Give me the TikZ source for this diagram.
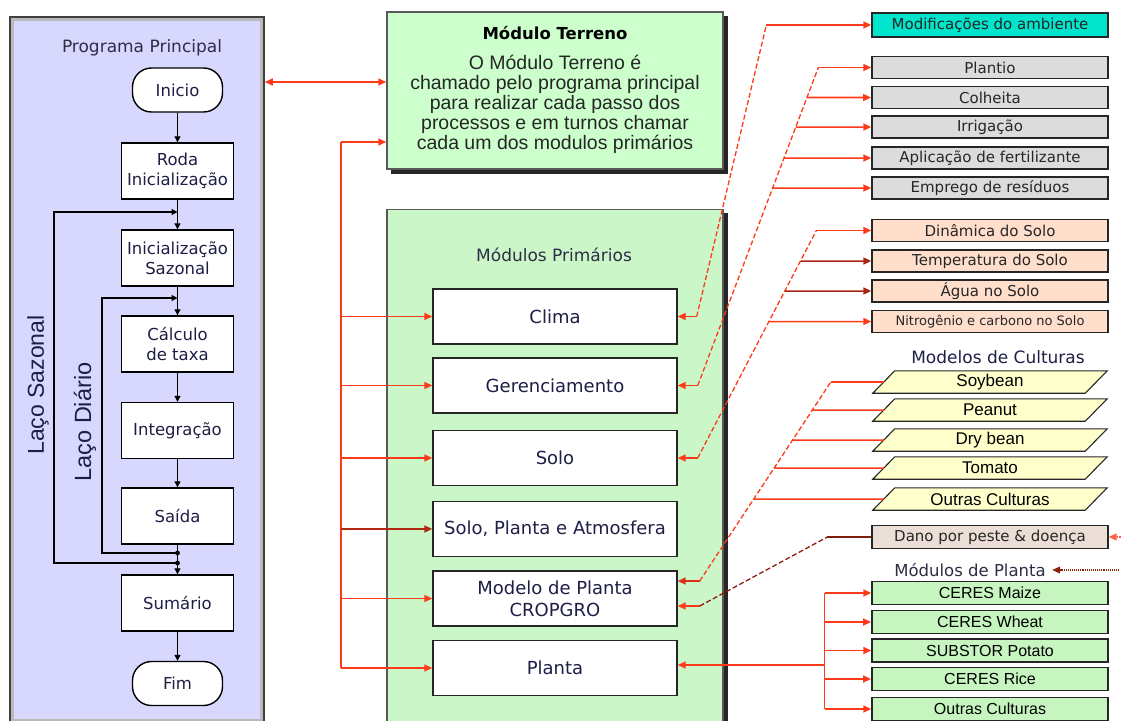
\documentclass[tikz,border=0pt]{standalone}
\usepackage{fontspec}
\setmainfont{DejaVu Sans}
\newfontfamily\arialf{Liberation Sans}
\usetikzlibrary{arrows.meta,calc}
\definecolor{lav}{RGB}{216,216,255}
\definecolor{mgreen}{RGB}{204,255,204}
\definecolor{pgreen}{RGB}{202,246,200}
\definecolor{cyanbox}{RGB}{0,229,204}
\definecolor{graybox}{RGB}{220,220,220}
\definecolor{peach}{RGB}{255,222,204}
\definecolor{yel}{RGB}{255,255,204}
\definecolor{danoc}{RGB}{234,222,214}
\definecolor{plg}{RGB}{198,245,192}
\definecolor{rd}{RGB}{255,58,26}
\definecolor{navy}{RGB}{30,30,70}
\definecolor{ttl}{RGB}{45,45,70}
\newcommand\fsz[2]{\fontsize{#1}{#2}\selectfont}
\begin{document}
\begin{tikzpicture}[x=1pt,y=-1pt,
  flow/.style={draw=black,line width=1.4pt,fill=white,minimum width=112pt,minimum height=56pt,
    align=center,inner sep=0pt,text=navy,font=\fsz{16.5}{20}},
  term/.style={flow,rounded corners=19pt,minimum width=90pt,minimum height=44pt},
  bk/.style={draw=black,line width=1.1pt,-{Triangle[length=6pt,width=6pt]}},
  mod/.style={draw=black!85,line width=1.4pt,fill=white,minimum width=244pt,minimum height=55pt,
    align=center,inner sep=0pt,text=navy,font=\fsz{18}{22}},
  rb/.style={draw=black!85,line width=1.3pt,minimum width=236pt,minimum height=22pt,inner sep=0pt,
    text=black!85,font=\fsz{15}{18}},
  par/.style={minimum width=212pt,minimum height=22pt,inner sep=0pt,font=\arialf\fsz{17}{20}},
  pm/.style={draw=black!85,line width=1.4pt,fill=plg,minimum width=236pt,minimum height=23pt,
    inner sep=0pt,font=\arialf\fsz{16}{19}},
  rl/.style={draw=rd,line width=1.5pt},
  arr/.style={-{Triangle[length=8pt,width=7pt]}},
  dsh/.style={draw=rd,line width=1.3pt,dash pattern=on 5pt off 2.5pt},
]
\useasboundingbox (0,0) rectangle (1121,720);
\fill[white] (0,0) rectangle (1121,720);

% ---------- left panel ----------
\node[draw=black!75,line width=1.5pt,fill=lav,minimum width=254pt,minimum height=706pt,inner sep=0pt]
  (prog) at (137,370) {};
\draw[gray!55,line width=3pt] ([shift={(3pt,-3pt)}]prog.north west) rectangle ([shift={(-3pt,3pt)}]prog.south east);
\node[text=ttl,font=\fsz{17}{20}] (ptitle) at (142,48) {Programa Principal};

\node[term] (ini) at (177.5,90) {Inicio};
\node[flow] (roda) at (177.5,171) {Roda\\Inicialização};
\node[flow] (saz) at (177.5,258) {Inicialização\\Sazonal};
\node[flow] (calc) at (177.5,344) {Cálculo\\de taxa};
\node[flow] (integ) at (177.5,430.5) {Integração};
\node[flow] (said) at (177.5,516) {Saída};
\node[flow] (sum) at (177.5,603) {Sumário};
\node[term] (fim) at (177.5,683.5) {Fim};

\coordinate (jS) at (177.5,212);
\coordinate (jD) at (177.5,298);
\coordinate (kD) at (177.5,553);
\coordinate (kS) at (177.5,563);

\draw[bk] (ini) -- (roda);
\draw[bk] (roda) -- (saz);
\draw[bk] (saz) -- (calc);
\draw[bk] (calc) -- (integ);
\draw[bk] (integ) -- (said);
\draw[bk] (said) -- (sum);
\draw[bk] (sum) -- (fim);
\draw[bk] (kD) -- ++(-75.5,0) |- (jD);
\draw[bk] (kS) -- ++(-123.5,0) |- (jS);
\fill (kD) circle (2.4pt);
\fill (kS) circle (2.4pt);

\node[rotate=90,font=\arialf\fsz{23}{25},text=navy] (lsaz) at (38,385) {Laço Sazonal};
\node[rotate=90,font=\arialf\fsz{23.5}{25},text=navy] (ldia) at (85,422) {Laço Diário};

% ---------- Modulo Terreno ----------
\fill[black!85] (391,16) rectangle (727.5,173.5);
\node[draw=black!65,line width=1.5pt,fill=mgreen,minimum width=336pt,minimum height=157pt,inner sep=0pt]
  (terr) at (555,90.5) {};
\node[font=\bfseries\fsz{16.5}{19}] (tt) at (555,33) {Módulo Terreno};
\node[font=\arialf\fsz{19.5}{20},align=center,text=black!85] (tbody) at (555,104)
  {O Módulo Terreno é\\chamado pelo programa principal\\para realizar cada passo dos\\processos e em turnos chamar\\cada um dos modulos primários};

% ---------- Modulos Primarios ----------
\fill[black!85] (391,213) rectangle (727.5,730);
\node[draw=black!65,line width=1.5pt,fill=pgreen,minimum width=336pt,minimum height=520pt,inner sep=0pt]
  (prim) at (555,469.5) {};
\node[text=ttl,font=\fsz{17}{20}] (ptl) at (554,255) {Módulos Primários};
\node[mod] (clima) at (555,316.5) {Clima};
\node[mod] (ger) at (555,385.5) {Gerenciamento};
\node[mod] (solo) at (555,458) {Solo};
\node[mod] (spa) at (555,529) {Solo, Planta e Atmosfera};
\node[mod] (mpc) at (555,598.5) {Modelo de Planta\\CROPGRO};
\node[mod] (planta) at (555,668) {Planta};

% ---------- right column ----------
\node[rb,fill=cyanbox,minimum height=24pt] (modif) at (990,25) {Modificações do ambiente};
\node[rb,fill=graybox] (plantio) at (990,67.5) {Plantio};
\node[rb,fill=graybox,line width=1.9pt] (colh) at (990,97.5) {Colheita};
\node[rb,fill=graybox] (irrig) at (990,127) {Irrigação};
\node[rb,fill=graybox] (aplic) at (990,158) {Aplicação de fertilizante};
\node[rb,fill=graybox] (empr) at (990,188) {Emprego de resíduos};

\node[rb,fill=peach] (dinam) at (990,230.5) {Dinâmica do Solo};
\node[rb,fill=peach] (temp) at (990,261) {Temperatura do Solo};
\node[rb,fill=peach] (agua) at (990,291) {Água no Solo};
\node[rb,fill=peach,font=\fsz{13}{16}] (nitro) at (990,321.5) {Nitrogênio e carbono no Solo};

\node[text=navy,font=\fsz{17}{20}] (mdc) at (998,357) {Modelos de Culturas};
\foreach \n/\y/\t in {soy/382/Soybean,pean/410/Peanut,dryb/440/Dry bean,toma/468/Tomato,outc/499/Outras Culturas}{
  \node[par] (\n) at (990,\y) {};
  \draw[fill=yel,draw=black!85,line width=1.1pt] ([xshift=-11pt]\n.south west) -- ([xshift=11pt]\n.north west)
     -- ([xshift=11pt]\n.north east) -- ([xshift=-11pt]\n.south east) -- cycle;
  \node[par] at (\n) {\t};
}

\node[rb,fill=danoc,minimum height=23pt] (dano) at (990,537) {Dano por peste \& doença};

\node[text=ttl,font=\fsz{16.5}{20}] (mdp) at (970,570) {Módulos de Planta};
\node[pm] (maize) at (990,593) {CERES Maize};
\node[pm,line width=1.9pt] (wheat) at (990,622) {CERES Wheat};
\node[pm] (potato) at (990,650.5) {SUBSTOR Potato};
\node[pm,line width=1.9pt] (rice) at (990,679) {CERES Rice};
\node[pm] (outp) at (990,709) {Outras Culturas};

% ---------- red connectors ----------
\draw[rl,{Triangle[length=8pt,width=7pt]}-{Triangle[length=8pt,width=7pt]}]
  ($(prog.east |- terr.west)+(0,-8.5)$) -- ($(terr.west)+(0,-8.5)$);
\coordinate (tr) at (341,142);
\draw[rl,arr] (tr) -- (tr -| terr.west);
\draw[rl] (tr) -- (tr |- planta.west);
\foreach \n in {clima,ger,solo,mpc,planta}
  \draw[rl,arr] (tr |- \n.west) -- (\n.west);
\draw[rl,draw=rd!70!black,line width=2pt,arr] (tr |- spa.west) -- (spa.west);

% clima -> modificacoes
\coordinate (a0) at ($(clima.east)+(19,0)$);
\coordinate (a1) at ($(modif.west)+(-105,0)$);
\draw[rl,arr] (a0) -- (clima.east);
\draw[dsh] (a0) -- (a1);
\draw[rl,arr] (a1) -- (modif.west);

% gerenciamento tree
\coordinate (g0) at ($(ger.east)+(20,0)$);
\coordinate (g1) at ($(plantio.west)+(-53,0)$);
\draw[rl,arr] (g0) -- (ger.east);
\draw[dsh] (g0) -- (g1);
\draw[rl,arr] (g1) -- (plantio.west);
\draw[rl,line width=1.9pt,arr] (intersection of g0--g1 and colh.west--colh.east) -- (colh.west);
\foreach \n in {irrig,aplic,empr}
  \draw[rl,arr] (intersection of g0--g1 and \n.west--\n.east) -- (\n.west);

% solo tree
\coordinate (s0) at ($(solo.east)+(20,0)$);
\coordinate (s1) at ($(dinam.west)+(-55,0)$);
\draw[rl,arr] (s0) -- (solo.east);
\draw[dsh] (s0) -- (s1);
\draw[rl,arr] (s1) -- (dinam.west);
\foreach \n in {temp,agua}
  \draw[rl,draw=rd!65!black,arr] (intersection of s0--s1 and \n.west--\n.east) -- (\n.west);
\draw[rl,arr] (intersection of s0--s1 and nitro.west--nitro.east) -- (nitro.west);

% culturas tree
\coordinate (c0) at ($(mpc.east)+(22,-17.5)$);
\coordinate (c1) at ($(soy.west)+(-53,0)$);
\draw[rl,draw=rd!85!black,arr] (c0) -- (c0 -| mpc.east);
\draw[dsh] (c0) -- (c1);
\draw[rl] (c1) -- (soy.west);
\foreach \n in {pean,dryb,toma,outc}
  \draw[rl] (intersection of c0--c1 and \n.west--\n.east) -- (\n.west);

% dano
\coordinate (d0) at ($(mpc.east)+(22,7.5)$);
\coordinate (d1) at ($(dano.west)+(-44,0)$);
\draw[rl,arr] (d0) -- (d0 -| mpc.east);
\draw[dsh,draw=rd!55!black] (d0) -- (d1);
\draw[rl,draw=rd!50!black] (d1) -- (dano.west);
\coordinate (e1) at ($(dano.east)+(14,0)$);
\draw[draw=rd!80,line width=1.1pt,densely dotted,arr] (e1) -- (dano.east);
\coordinate (e2) at ($(mdp.east)+(70,0)$);
\draw[draw=rd!55!black,line width=1.1pt,densely dotted,arr] (e2) -- ($(mdp.east)+(3,0)$);

% plant modules tree
\coordinate (pt) at ($(planta.east)+(147,-3)$);
\draw[rl,arr] (pt) -- (pt -| planta.east);
\draw[rl] (pt |- maize.west) -- (pt |- outp.west);
\foreach \n in {maize,wheat,potato,rice,outp}
  \draw[rl,arr] (pt |- \n.west) -- (\n.west);
\end{tikzpicture}
\end{document}
